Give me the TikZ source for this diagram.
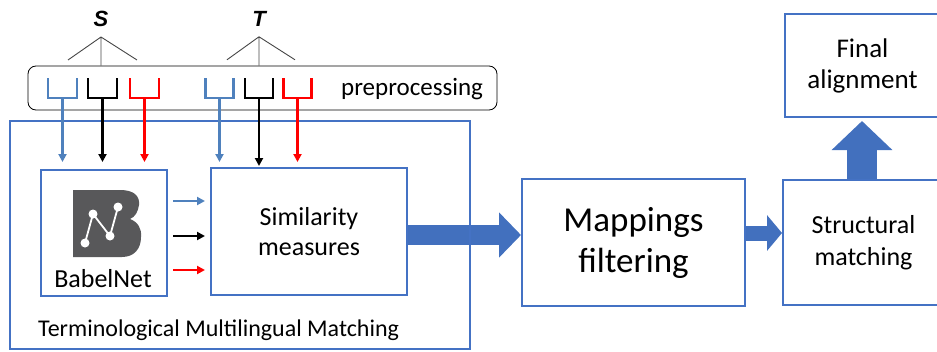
\documentclass[tikz,border=0pt]{standalone}
\usepackage{fontspec}
\setmainfont{Carlito}
\newfontfamily\setfont{Liberation Sans}
\usetikzlibrary{arrows.meta}

\definecolor{boxblue}{RGB}{68,114,196}
\definecolor{forkblue}{RGB}{79,129,189}
\definecolor{arrowblue}{RGB}{66,112,190}
\definecolor{logogray}{RGB}{88,88,90}
\definecolor{treegray}{RGB}{70,70,70}

\begin{document}
\begin{tikzpicture}[x=1pt,y=-1pt,>={Triangle[length=8pt,width=8pt]},
                    box/.style={draw=boxblue,line width=2pt,inner sep=0pt,align=center},
                    set node/.style={inner sep=0pt,font=\setfont\bfseries\itshape\fontsize{22}{26}\selectfont},
                    fork/.style={line width=2.2pt},
                    tree/.style={treegray,line width=0.9pt},
                    fat/.style={arrowblue,line width=#1}]

  \useasboundingbox (0,0) rectangle (937,351);

  \node[box,minimum width=126pt,minimum height=126pt] (bn) at (104,233) {};
  \node[box,minimum width=196pt,minimum height=127pt,font=\fontsize{26}{30}\selectfont] (sim) at (309,231.5) {Similarity\\measures};
  \node[box,minimum width=223pt,minimum height=127pt,font=\fontsize{35}{41}\selectfont] (map) at (633.5,242.5) {Mappings\\filtering};
  \node[box,minimum width=161pt,minimum height=125pt,font=\fontsize{26}{32}\selectfont] (str) at (863.5,242.5) {Structural\\matching};
  \node[box,minimum width=155pt,minimum height=103pt,font=\fontsize{27}{31}\selectfont] (fin) at (862.5,65.5) {Final\\alignment};

  \node[font=\fontsize{26}{30}\selectfont,anchor=base] (bnlabel) at (103,287) {BabelNet};
  \begin{scope}[shift={(bn.center)}]
    \fill[logogray] (-31,-43) -- (16,-43) .. controls (30,-43) and (36,-37) .. (35,-28)
      .. controls (34,-21) and (31,-16) .. (26,-14) .. controls (34,-11) and (38,-4) .. (37,4)
      .. controls (37,16) and (30,24) .. (18,24) -- (-31,24) -- cycle;
    \draw[white,line width=1.8pt] (-19,10) -- (-11,-19) -- (6,3) -- (14,-26);
    \foreach \p in {(-19,10),(-11,-19),(6,3),(14,-26)}
      \fill[white] \p circle (4.5pt);
  \end{scope}

  \draw[fat=20pt,-{Triangle[length=22pt,width=44pt]}] (sim.east |- 0,235) -- (map.west |- 0,235);
  \draw[fat=15pt,-{Triangle[length=15pt,width=35pt]}] (map.east |- 0,233) -- (str.west |- 0,233);
  \draw[fat=30pt,-{Triangle[length=29pt,width=59pt]},shorten >=3pt] (str.north -| 862,0) -- (fin.south -| 862,0);

  \node[box,minimum width=460pt,minimum height=228pt] (tmm) at (240,235) {};
  \node[font=\fontsize{24}{28}\selectfont,anchor=base west,inner sep=0pt] (tmmlabel) at (38,336) {Terminological Multilingual Matching};

  \node[draw=black,line width=0.8pt,rounded corners=8pt,minimum width=469pt,minimum height=44pt] (pre) at (262.5,88) {};
  \node[font=\fontsize{25}{30}\selectfont,anchor=base west,inner sep=0pt] (prelabel) at (341,95) {preprocessing};

  \node[set node] (s) at (101,19) {S};
  \node[set node] (t) at (259,19) {T};
  \path (s.south) ++(0,10) coordinate (sroot);
  \path (t.south) ++(0,10) coordinate (troot);
  \draw[tree] (sroot) -- ++(-33,23) (sroot) -- (sroot |- pre.north) (sroot) -- ++(36,23);
  \draw[tree] (troot) -- ++(-32,23) (troot) -- (troot |- pre.north) (troot) -- ++(36,23);

  \foreach \c/\col/\i in {62.5/forkblue/1,102.5/black/2,144.5/red/3}{
    \coordinate (sf\i) at (\c,98);
    \draw[fork,\col] (\c-14.5,78) -- (\c-14.5,98) -- (\c+14.5,98) -- (\c+14.5,78);
    \draw[fork,\col,->,shorten >=7pt] (sf\i) -- (sf\i |- bn.north);
  }
  \foreach \c/\col/\sh/\i in {219.5/forkblue/5/1,259/black/1/2,297.5/red/5/3}{
    \coordinate (tf\i) at (\c,98);
    \draw[fork,\col] (\c-14,78) -- (\c-14,98) -- (\c+14,98) -- (\c+14,78);
    \draw[fork,\col,->,shorten >=\sh pt] (tf\i) -- (tf\i |- sim.north);
  }

  \draw[->,forkblue,line width=2pt,shorten <=5pt,shorten >=5pt] (bn.east |- 0,201) -- (sim.west |- 0,201);
  \draw[->,black,line width=2pt,shorten <=5pt,shorten >=5pt] (bn.east |- 0,236) -- (sim.west |- 0,236);
  \draw[->,red,line width=2pt,shorten <=5pt,shorten >=5pt] (bn.east |- 0,270) -- (sim.west |- 0,270);
\end{tikzpicture}
\end{document}
